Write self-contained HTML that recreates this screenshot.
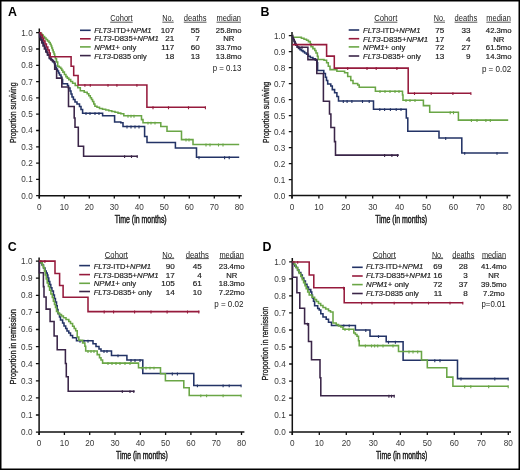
<!DOCTYPE html><html><head><meta charset="utf-8"><style>html,body{margin:0;padding:0;background:#fff}svg{display:block;will-change:transform}text{font-family:"Liberation Sans",sans-serif}</style></head><body>
<svg width="520" height="470" viewBox="0 0 520 470">
<rect x="0" y="0" width="520" height="470" fill="#fff"/>
<path d="M39.3 28.5V198.5M38.6 195.7H241.8" stroke="#111" stroke-width="1.5" fill="none"/>
<path d="M36.1 195.7H39.3M36.1 179.4H39.3M36.1 163.1H39.3M36.1 146.8H39.3M36.1 130.5H39.3M36.1 114.2H39.3M36.1 97.9H39.3M36.1 81.6H39.3M36.1 65.3H39.3M36.1 49H39.3M36.1 32.7H39.3M39.3 195.7V198.5M64.3 195.7V198.5M89.3 195.7V198.5M114.3 195.7V198.5M139.3 195.7V198.5M164.3 195.7V198.5M189.3 195.7V198.5M214.3 195.7V198.5M239.3 195.7V198.5" stroke="#111" stroke-width="1.3" fill="none"/>
<text x="32.7" y="198.6" font-size="8.2" text-anchor="end" fill="#383838">0.0</text>
<text x="32.7" y="182.3" font-size="8.2" text-anchor="end" fill="#383838">0.1</text>
<text x="32.7" y="166" font-size="8.2" text-anchor="end" fill="#383838">0.2</text>
<text x="32.7" y="149.7" font-size="8.2" text-anchor="end" fill="#383838">0.3</text>
<text x="32.7" y="133.4" font-size="8.2" text-anchor="end" fill="#383838">0.4</text>
<text x="32.7" y="117.1" font-size="8.2" text-anchor="end" fill="#383838">0.5</text>
<text x="32.7" y="100.8" font-size="8.2" text-anchor="end" fill="#383838">0.6</text>
<text x="32.7" y="84.5" font-size="8.2" text-anchor="end" fill="#383838">0.7</text>
<text x="32.7" y="68.2" font-size="8.2" text-anchor="end" fill="#383838">0.8</text>
<text x="32.7" y="51.9" font-size="8.2" text-anchor="end" fill="#383838">0.9</text>
<text x="32.7" y="35.6" font-size="8.2" text-anchor="end" fill="#383838">1.0</text>
<text x="39.3" y="209.7" font-size="8.2" text-anchor="middle" fill="#383838">0</text>
<text x="64.3" y="209.7" font-size="8.2" text-anchor="middle" fill="#383838">10</text>
<text x="89.3" y="209.7" font-size="8.2" text-anchor="middle" fill="#383838">20</text>
<text x="114.3" y="209.7" font-size="8.2" text-anchor="middle" fill="#383838">30</text>
<text x="139.3" y="209.7" font-size="8.2" text-anchor="middle" fill="#383838">40</text>
<text x="164.3" y="209.7" font-size="8.2" text-anchor="middle" fill="#383838">50</text>
<text x="189.3" y="209.7" font-size="8.2" text-anchor="middle" fill="#383838">60</text>
<text x="214.3" y="209.7" font-size="8.2" text-anchor="middle" fill="#383838">70</text>
<text x="239.3" y="209.7" font-size="8.2" text-anchor="middle" fill="#383838">80</text>
<text x="8" y="15.7" font-size="12.4" fill="#000" font-weight="bold">A</text>
<text transform="translate(16.1 112.8) rotate(-90)" x="0" y="0" font-size="9.7" fill="#1a1a1a" stroke="#1a1a1a" stroke-width="0.3" text-anchor="middle" textLength="60.5" lengthAdjust="spacingAndGlyphs">Proportion surviving</text>
<text x="114.7" y="223" font-size="10" textLength="52" lengthAdjust="spacingAndGlyphs" fill="#1a1a1a" stroke="#1a1a1a" stroke-width="0.45">Time (in months)</text>
<text x="110.2" y="21.3" font-size="8.2" textLength="22.5" lengthAdjust="spacingAndGlyphs" fill="#1a1a1a">Cohort</text>
<path d="M110.2 22.2H132.7" stroke="#1a1a1a" stroke-width="0.75"/>
<text x="162.3" y="21.3" font-size="8.2" textLength="11.4" lengthAdjust="spacingAndGlyphs" fill="#1a1a1a">No.</text>
<path d="M162.3 22.2H173.7" stroke="#1a1a1a" stroke-width="0.75"/>
<text x="183.8" y="21.3" font-size="8.2" textLength="22.7" lengthAdjust="spacingAndGlyphs" fill="#1a1a1a">deaths</text>
<path d="M183.8 22.2H206.5" stroke="#1a1a1a" stroke-width="0.75"/>
<text x="216.5" y="21.3" font-size="8.2" textLength="24.5" lengthAdjust="spacingAndGlyphs" fill="#1a1a1a">median</text>
<path d="M216.5 22.2H241" stroke="#1a1a1a" stroke-width="0.75"/>
<path d="M80 30.3H90.7" stroke="#233366" stroke-width="1.6"/>
<text x="94.2" y="32.5" font-size="7.9" textLength="57.3" lengthAdjust="spacingAndGlyphs" fill="#1a1a1a" stroke="#1a1a1a" stroke-width="0.18"><tspan font-style="italic">FLT3</tspan>-ITD+<tspan font-style="italic">NPM1</tspan></text>
<text x="174.2" y="32.5" font-size="8.1" text-anchor="end" fill="#1a1a1a" stroke="#1a1a1a" stroke-width="0.18">107</text>
<text x="199.8" y="32.5" font-size="8.1" text-anchor="end" fill="#1a1a1a" stroke="#1a1a1a" stroke-width="0.18">55</text>
<text x="228.7" y="32.5" font-size="7.7" text-anchor="middle" fill="#1a1a1a" stroke="#1a1a1a" stroke-width="0.18">25.8mo</text>
<path d="M80 38.8H90.7" stroke="#961a3c" stroke-width="1.6"/>
<text x="94.2" y="41.2" font-size="7.9" textLength="64.5" lengthAdjust="spacingAndGlyphs" fill="#1a1a1a" stroke="#1a1a1a" stroke-width="0.18"><tspan font-style="italic">FLT3</tspan>-D835+<tspan font-style="italic">NPM1</tspan></text>
<text x="174.2" y="41.2" font-size="8.1" text-anchor="end" fill="#1a1a1a" stroke="#1a1a1a" stroke-width="0.18">21</text>
<text x="199.8" y="41.2" font-size="8.1" text-anchor="end" fill="#1a1a1a" stroke="#1a1a1a" stroke-width="0.18">7</text>
<text x="228.7" y="41.2" font-size="7.7" text-anchor="middle" fill="#1a1a1a" stroke="#1a1a1a" stroke-width="0.18">NR</text>
<path d="M80 46.9H90.7" stroke="#6aa646" stroke-width="1.6"/>
<text x="94.2" y="49.8" font-size="7.9" textLength="42.2" lengthAdjust="spacingAndGlyphs" fill="#1a1a1a" stroke="#1a1a1a" stroke-width="0.18"><tspan font-style="italic">NPM1</tspan>+ only</text>
<text x="174.2" y="49.8" font-size="8.1" text-anchor="end" fill="#1a1a1a" stroke="#1a1a1a" stroke-width="0.18">117</text>
<text x="199.8" y="49.8" font-size="8.1" text-anchor="end" fill="#1a1a1a" stroke="#1a1a1a" stroke-width="0.18">60</text>
<text x="228.7" y="49.8" font-size="7.7" text-anchor="middle" fill="#1a1a1a" stroke="#1a1a1a" stroke-width="0.18">33.7mo</text>
<path d="M80 55.6H90.7" stroke="#3a2548" stroke-width="1.6"/>
<text x="94.2" y="58.5" font-size="7.9" textLength="52.4" lengthAdjust="spacingAndGlyphs" fill="#1a1a1a" stroke="#1a1a1a" stroke-width="0.18"><tspan font-style="italic">FLT3</tspan>-D835 only</text>
<text x="174.2" y="58.5" font-size="8.1" text-anchor="end" fill="#1a1a1a" stroke="#1a1a1a" stroke-width="0.18">18</text>
<text x="199.8" y="58.5" font-size="8.1" text-anchor="end" fill="#1a1a1a" stroke="#1a1a1a" stroke-width="0.18">13</text>
<text x="228.7" y="58.5" font-size="7.7" text-anchor="middle" fill="#1a1a1a" stroke="#1a1a1a" stroke-width="0.18">13.8mo</text>
<text x="212.7" y="70.6" font-size="8.2" textLength="28.6" lengthAdjust="spacingAndGlyphs" fill="#1a1a1a">p = 0.13</text>
<path d="M39.3 32.7H39.8V35H40.8V37.5H41.8V40H42.8V42.5H43.8V45H44.8V47.5H45.8V50H46.8V52.5H47.8V55H49.6V58.6H51V59.5H52.2V60.5H53.3V62H54.3V63.5H55.1V65.5H55.8V67.5H56.5V69.2H57.5V71H58.5V73H59.5V75H61V77H61.8V79.5H62.6V83.8H67.5V85.5H68.5V88H70V91H71V94H72V97H73.4V99.5H75V102H77V104H79.5V106.5H81V109.5H82.6V113.2H102.6V115.8H114.6V122H120.8V122.7H123V126.5H144.6V136.5H147V142.5H175.4V148H196.5V157.3H239.2" stroke="#233366" stroke-width="1.55" fill="none" stroke-linejoin="miter"/>
<path d="M86 112.2V115.1M90 112.2V115.1M95 112.2V115.1M99 112.2V115.1M127 125.5V128.4M131 125.5V128.4M135 125.5V128.4M139 125.5V128.4M199 156.3V159.2M224.6 156.3V159.2M229.2 156.3V159.2" stroke="#233366" stroke-width="1.1" fill="none"/>
<path d="M39.3 32.7H40.5V33.5H41.8V35H43.2V36.5H44.6V38H46V39.5H47.5V41H49V42.5H50.2V44.2H51.1V46H51.8V48H52.5V50H53.2V52H54V54H54.7V56.5H55.4V58.7H56.5V62H57.7V66.2H59.2V67.3H60.7V68.4H61.8V70.2H62.9V72.1H64.4V74.4H65.9V76.6H67.3V78.1H68.8V79.6H70.7V81.5H72.6V83.3H75.2V85.5H77.8V87.8H80.3V90.8H84.2V92.3H87.2V93.8H88.8V95.8H90.3V97.7H91.5V99.5H92.6V101.5H93.8V104H94.9V106.2H97V107.3H99.5V108.5H102.5V109.2H105.7V110H108.8V110.8H111.8V111.5H115V112.3H118V113.1H120.8V113.7H123.8V115.8H141.5V119.6H143V122.7H160.8V126.5H167V131.3H181.5V139.6H193V144.5H239.2" stroke="#6aa646" stroke-width="1.55" fill="none" stroke-linejoin="miter"/>
<path d="M128 114.8V117.7M131 114.8V117.7M134 114.8V117.7M148 121.7V124.6M151 121.7V124.6M155 121.7V124.6M186 138.6V141.5M189 138.6V141.5M206 143.5V146.4M210 143.5V146.4M218.5 143.5V146.4M223 143.5V146.4" stroke="#6aa646" stroke-width="1.1" fill="none"/>
<path d="M39.3 32.7H39.6V37H40.6V40H41.8V43H43V46H44.4V49H45.8V52H47.4V55H49.2V58H51V60H52.5V61.5H54.7V69.1H56.6V78.1H61.8V87H68.5V106.5H74.2V118H75V127.3H78.3V146.3H83.6V156.2H137.7" stroke="#3a2548" stroke-width="1.55" fill="none" stroke-linejoin="miter"/>
<path d="M124.6 155.2V158.1M131.5 155.2V158.1M137.2 155.2V158.1" stroke="#3a2548" stroke-width="1.1" fill="none"/>
<path d="M39.3 32.7H40.8V35H42.2V38H43.6V41H45V44H46.4V47H47.8V50H49.2V53H50.2V56.8H71.1V66.3H73.7V75.4H78.1V84.9H146.9V107.3H205.4" stroke="#961a3c" stroke-width="1.55" fill="none" stroke-linejoin="miter"/>
<path d="M84.9 83.9V86.8M90.3 83.9V86.8M108 83.9V86.8M116.9 83.9V86.8M136.9 83.9V86.8M153 106.3V109.2M168.5 106.3V109.2M188.5 106.3V109.2M205.4 106.3V109.2" stroke="#961a3c" stroke-width="1.1" fill="none"/>
<path d="M292 31.9V198.4M291.3 195.6H510.5" stroke="#111" stroke-width="1.5" fill="none"/>
<path d="M288.8 195.6H292M288.8 179.6H292M288.8 163.6H292M288.8 147.6H292M288.8 131.6H292M288.8 115.6H292M288.8 99.6H292M288.8 83.6H292M288.8 67.6H292M288.8 51.6H292M288.8 35.6H292M292 195.6V198.4M318.9 195.6V198.4M345.8 195.6V198.4M372.7 195.6V198.4M399.6 195.6V198.4M426.5 195.6V198.4M453.4 195.6V198.4M480.3 195.6V198.4M507.2 195.6V198.4" stroke="#111" stroke-width="1.3" fill="none"/>
<text x="285.4" y="198.5" font-size="8.2" text-anchor="end" fill="#383838">0.0</text>
<text x="285.4" y="182.5" font-size="8.2" text-anchor="end" fill="#383838">0.1</text>
<text x="285.4" y="166.5" font-size="8.2" text-anchor="end" fill="#383838">0.2</text>
<text x="285.4" y="150.5" font-size="8.2" text-anchor="end" fill="#383838">0.3</text>
<text x="285.4" y="134.5" font-size="8.2" text-anchor="end" fill="#383838">0.4</text>
<text x="285.4" y="118.5" font-size="8.2" text-anchor="end" fill="#383838">0.5</text>
<text x="285.4" y="102.5" font-size="8.2" text-anchor="end" fill="#383838">0.6</text>
<text x="285.4" y="86.5" font-size="8.2" text-anchor="end" fill="#383838">0.7</text>
<text x="285.4" y="70.5" font-size="8.2" text-anchor="end" fill="#383838">0.8</text>
<text x="285.4" y="54.5" font-size="8.2" text-anchor="end" fill="#383838">0.9</text>
<text x="285.4" y="38.5" font-size="8.2" text-anchor="end" fill="#383838">1.0</text>
<text x="292" y="209.6" font-size="8.2" text-anchor="middle" fill="#383838">0</text>
<text x="318.9" y="209.6" font-size="8.2" text-anchor="middle" fill="#383838">10</text>
<text x="345.8" y="209.6" font-size="8.2" text-anchor="middle" fill="#383838">20</text>
<text x="372.7" y="209.6" font-size="8.2" text-anchor="middle" fill="#383838">30</text>
<text x="399.6" y="209.6" font-size="8.2" text-anchor="middle" fill="#383838">40</text>
<text x="426.5" y="209.6" font-size="8.2" text-anchor="middle" fill="#383838">50</text>
<text x="453.4" y="209.6" font-size="8.2" text-anchor="middle" fill="#383838">60</text>
<text x="480.3" y="209.6" font-size="8.2" text-anchor="middle" fill="#383838">70</text>
<text x="507.2" y="209.6" font-size="8.2" text-anchor="middle" fill="#383838">80</text>
<text x="260.4" y="16" font-size="12.4" fill="#000" font-weight="bold">B</text>
<text transform="translate(268.5 112.4) rotate(-90)" x="0" y="0" font-size="9.7" fill="#1a1a1a" stroke="#1a1a1a" stroke-width="0.3" text-anchor="middle" textLength="61" lengthAdjust="spacingAndGlyphs">Proportion surviving</text>
<text x="375.2" y="223" font-size="10" textLength="52" lengthAdjust="spacingAndGlyphs" fill="#1a1a1a" stroke="#1a1a1a" stroke-width="0.45">Time (in months)</text>
<text x="374.2" y="21.3" font-size="8.2" textLength="23.1" lengthAdjust="spacingAndGlyphs" fill="#1a1a1a">Cohort</text>
<path d="M374.2 22.2H397.3" stroke="#1a1a1a" stroke-width="0.75"/>
<text x="433.8" y="21.3" font-size="8.2" textLength="11.2" lengthAdjust="spacingAndGlyphs" fill="#1a1a1a">No.</text>
<path d="M433.8 22.2H445" stroke="#1a1a1a" stroke-width="0.75"/>
<text x="454.6" y="21.3" font-size="8.2" textLength="22.7" lengthAdjust="spacingAndGlyphs" fill="#1a1a1a">deaths</text>
<path d="M454.6 22.2H477.3" stroke="#1a1a1a" stroke-width="0.75"/>
<text x="486.3" y="21.3" font-size="8.2" textLength="24.5" lengthAdjust="spacingAndGlyphs" fill="#1a1a1a">median</text>
<path d="M486.3 22.2H510.8" stroke="#1a1a1a" stroke-width="0.75"/>
<path d="M348.7 30H359.2" stroke="#233366" stroke-width="1.6"/>
<text x="363.1" y="32.5" font-size="7.9" textLength="57.3" lengthAdjust="spacingAndGlyphs" fill="#1a1a1a" stroke="#1a1a1a" stroke-width="0.18"><tspan font-style="italic">FLT3</tspan>-ITD+<tspan font-style="italic">NPM1</tspan></text>
<text x="444.2" y="32.5" font-size="8.1" text-anchor="end" fill="#1a1a1a" stroke="#1a1a1a" stroke-width="0.18">75</text>
<text x="470.5" y="32.5" font-size="8.1" text-anchor="end" fill="#1a1a1a" stroke="#1a1a1a" stroke-width="0.18">33</text>
<text x="498.7" y="32.5" font-size="7.7" text-anchor="middle" fill="#1a1a1a" stroke="#1a1a1a" stroke-width="0.18">42.3mo</text>
<path d="M348.7 38.7H359.2" stroke="#961a3c" stroke-width="1.6"/>
<text x="363.1" y="41.6" font-size="7.9" textLength="65" lengthAdjust="spacingAndGlyphs" fill="#1a1a1a" stroke="#1a1a1a" stroke-width="0.18"><tspan font-style="italic">FLT3</tspan>-D835+<tspan font-style="italic">NPM1</tspan></text>
<text x="444.2" y="41.6" font-size="8.1" text-anchor="end" fill="#1a1a1a" stroke="#1a1a1a" stroke-width="0.18">17</text>
<text x="470.5" y="41.6" font-size="8.1" text-anchor="end" fill="#1a1a1a" stroke="#1a1a1a" stroke-width="0.18">4</text>
<text x="498.7" y="41.6" font-size="7.7" text-anchor="middle" fill="#1a1a1a" stroke="#1a1a1a" stroke-width="0.18">NR</text>
<path d="M348.7 46.9H359.2" stroke="#6aa646" stroke-width="1.6"/>
<text x="363.1" y="50.2" font-size="7.9" textLength="42.2" lengthAdjust="spacingAndGlyphs" fill="#1a1a1a" stroke="#1a1a1a" stroke-width="0.18"><tspan font-style="italic">NPM1</tspan>+ only</text>
<text x="444.2" y="50.2" font-size="8.1" text-anchor="end" fill="#1a1a1a" stroke="#1a1a1a" stroke-width="0.18">72</text>
<text x="470.5" y="50.2" font-size="8.1" text-anchor="end" fill="#1a1a1a" stroke="#1a1a1a" stroke-width="0.18">27</text>
<text x="498.7" y="50.2" font-size="7.7" text-anchor="middle" fill="#1a1a1a" stroke="#1a1a1a" stroke-width="0.18">61.5mo</text>
<path d="M348.7 56H359.2" stroke="#3a2548" stroke-width="1.6"/>
<text x="363.1" y="58.9" font-size="7.9" textLength="57.8" lengthAdjust="spacingAndGlyphs" fill="#1a1a1a" stroke="#1a1a1a" stroke-width="0.18"><tspan font-style="italic">FLT3</tspan>-D835+ only</text>
<text x="444.2" y="58.9" font-size="8.1" text-anchor="end" fill="#1a1a1a" stroke="#1a1a1a" stroke-width="0.18">13</text>
<text x="470.5" y="58.9" font-size="8.1" text-anchor="end" fill="#1a1a1a" stroke="#1a1a1a" stroke-width="0.18">9</text>
<text x="498.7" y="58.9" font-size="7.7" text-anchor="middle" fill="#1a1a1a" stroke="#1a1a1a" stroke-width="0.18">14.3mo</text>
<text x="481.9" y="72.3" font-size="8.2" textLength="29.4" lengthAdjust="spacingAndGlyphs" fill="#1a1a1a">p = 0.02</text>
<path d="M292 35.6H292.5V37.5H293.3V39.5H294.2V41.5H295V43.5H295.8V45.3H297V47H298.5V48.5H300V49.6H301.5V50.6H303V51.6H304.6V53H306.5V54.3H308.4V56.2H310.3V57.5H312.9V58.8H315.4V60.1H317.2V62.8H317.6V70.4H323.8V73.5H325.4V77.3H326.5V80.5H327.7V84H330.8V86H332.3V89.6H334.6V92.7H336.9V96.5H338.5V101H373.5V109.2H406.3V118H407.8V131.3H439V138H461.8V152.9H508.2" stroke="#233366" stroke-width="1.55" fill="none" stroke-linejoin="miter"/>
<path d="M343.3 100V102.9M347.1 100V102.9M351.9 100V102.9M362.5 100V102.9M369.2 100V102.9M379.8 108.2V111.1M384.6 108.2V111.1M390.4 108.2V111.1M396.2 108.2V111.1M401 108.2V111.1M445.7 137V139.9M464.7 151.9V154.8M497 151.9V154.8" stroke="#233366" stroke-width="1.1" fill="none"/>
<path d="M292 35.6H292.6V37.3H301.4V38.2H304V39.2H306.5V40.2H308.4V41.6H310.3V43.8H311V46.7H312.9V48.6H314.8V50.5H316V53H317.4V56.2H318.1V59.4H324V60.2H326.6V62.8H328.3V66.2H330V69.6H336.9V71.2H344.6V72.7H347.7V76.5H350.8V80.4H353V83.5H357.7V85H359.2V87.3H375.4V91.2H402.5V95H403V100.2H423.4V105.6H429.7V112.3H458.4V120.1H508.2" stroke="#6aa646" stroke-width="1.55" fill="none" stroke-linejoin="miter"/>
<path d="M380 90.2V93.1M385 90.2V93.1M390 90.2V93.1M395 90.2V93.1M399 90.2V93.1M406 99.2V102.1M410 99.2V102.1M415 99.2V102.1M450.2 111.3V114.2M453.5 111.3V114.2M471.4 119.1V122M477 119.1V122M485.9 119.1V122M490.3 119.1V122" stroke="#6aa646" stroke-width="1.1" fill="none"/>
<path d="M292 35.6H292.5V37.5H293.3V39.5H294.2V41.5H295V43.5H295.8V45.3H297.5V47.2H307.9V59.6H316.8V73.5H323.4V101.2H329.5V114H330.9V127.5H334.5V141.6H335.5V155.1H398.8" stroke="#3a2548" stroke-width="1.55" fill="none" stroke-linejoin="miter"/>
<path d="M299 46.2V49.1M302 46.2V49.1M384.6 154.1V157M391.9 154.1V157M397.5 154.1V157" stroke="#3a2548" stroke-width="1.1" fill="none"/>
<path d="M292.3 44.6H326.6V56.1H334.3V68.1H408.2V93.2H470.9" stroke="#961a3c" stroke-width="1.55" fill="none" stroke-linejoin="miter"/>
<path d="M347.7 67.1V70M367 67.1V70M376.2 67.1V70M396.9 67.1V70M414.5 92.2V95.1M431.2 92.2V95.1M452.9 92.2V95.1M470.9 92.2V95.1" stroke="#961a3c" stroke-width="1.1" fill="none"/>
<path d="M39.1 257.5V434.9M38.4 432.1H244.4" stroke="#111" stroke-width="1.5" fill="none"/>
<path d="M35.9 432.1H39.1M35.9 415H39.1M35.9 397.9H39.1M35.9 380.8H39.1M35.9 363.7H39.1M35.9 346.6H39.1M35.9 329.5H39.1M35.9 312.4H39.1M35.9 295.3H39.1M35.9 278.2H39.1M35.9 261.1H39.1M39.1 432.1V434.9M64.4 432.1V434.9M89.7 432.1V434.9M115 432.1V434.9M140.3 432.1V434.9M165.6 432.1V434.9M190.9 432.1V434.9M216.2 432.1V434.9M241.5 432.1V434.9" stroke="#111" stroke-width="1.3" fill="none"/>
<text x="32.5" y="435" font-size="8.2" text-anchor="end" fill="#383838">0.0</text>
<text x="32.5" y="417.9" font-size="8.2" text-anchor="end" fill="#383838">0.1</text>
<text x="32.5" y="400.8" font-size="8.2" text-anchor="end" fill="#383838">0.2</text>
<text x="32.5" y="383.7" font-size="8.2" text-anchor="end" fill="#383838">0.3</text>
<text x="32.5" y="366.6" font-size="8.2" text-anchor="end" fill="#383838">0.4</text>
<text x="32.5" y="349.5" font-size="8.2" text-anchor="end" fill="#383838">0.5</text>
<text x="32.5" y="332.4" font-size="8.2" text-anchor="end" fill="#383838">0.6</text>
<text x="32.5" y="315.3" font-size="8.2" text-anchor="end" fill="#383838">0.7</text>
<text x="32.5" y="298.2" font-size="8.2" text-anchor="end" fill="#383838">0.8</text>
<text x="32.5" y="281.1" font-size="8.2" text-anchor="end" fill="#383838">0.9</text>
<text x="32.5" y="264" font-size="8.2" text-anchor="end" fill="#383838">1.0</text>
<text x="39.1" y="446.1" font-size="8.2" text-anchor="middle" fill="#383838">0</text>
<text x="64.4" y="446.1" font-size="8.2" text-anchor="middle" fill="#383838">10</text>
<text x="89.7" y="446.1" font-size="8.2" text-anchor="middle" fill="#383838">20</text>
<text x="115" y="446.1" font-size="8.2" text-anchor="middle" fill="#383838">30</text>
<text x="140.3" y="446.1" font-size="8.2" text-anchor="middle" fill="#383838">40</text>
<text x="165.6" y="446.1" font-size="8.2" text-anchor="middle" fill="#383838">50</text>
<text x="190.9" y="446.1" font-size="8.2" text-anchor="middle" fill="#383838">60</text>
<text x="216.2" y="446.1" font-size="8.2" text-anchor="middle" fill="#383838">70</text>
<text x="241.5" y="446.1" font-size="8.2" text-anchor="middle" fill="#383838">80</text>
<text x="7.8" y="250.7" font-size="12.4" fill="#000" font-weight="bold">C</text>
<text transform="translate(16.4 346.8) rotate(-90)" x="0" y="0" font-size="9.7" fill="#1a1a1a" stroke="#1a1a1a" stroke-width="0.3" text-anchor="middle" textLength="75.4" lengthAdjust="spacingAndGlyphs">Proportion in remission</text>
<text x="115.9" y="459.4" font-size="10" textLength="52" lengthAdjust="spacingAndGlyphs" fill="#1a1a1a" stroke="#1a1a1a" stroke-width="0.45">Time (in months)</text>
<text x="104.8" y="257.7" font-size="8.2" textLength="23.1" lengthAdjust="spacingAndGlyphs" fill="#1a1a1a">Cohort</text>
<path d="M104.8 258.6H127.9" stroke="#1a1a1a" stroke-width="0.75"/>
<text x="162.3" y="257.7" font-size="8.2" textLength="11.9" lengthAdjust="spacingAndGlyphs" fill="#1a1a1a">No.</text>
<path d="M162.3 258.6H174.2" stroke="#1a1a1a" stroke-width="0.75"/>
<text x="185.8" y="257.7" font-size="8.2" textLength="23" lengthAdjust="spacingAndGlyphs" fill="#1a1a1a">deaths</text>
<path d="M185.8 258.6H208.8" stroke="#1a1a1a" stroke-width="0.75"/>
<text x="219.4" y="257.7" font-size="8.2" textLength="24.4" lengthAdjust="spacingAndGlyphs" fill="#1a1a1a">median</text>
<path d="M219.4 258.6H243.8" stroke="#1a1a1a" stroke-width="0.75"/>
<path d="M79.2 265.6H90" stroke="#233366" stroke-width="1.6"/>
<text x="93.7" y="268.5" font-size="7.9" textLength="57.3" lengthAdjust="spacingAndGlyphs" fill="#1a1a1a" stroke="#1a1a1a" stroke-width="0.18"><tspan font-style="italic">FLT3</tspan>-ITD+<tspan font-style="italic">NPM1</tspan></text>
<text x="174.8" y="268.5" font-size="8.1" text-anchor="end" fill="#1a1a1a" stroke="#1a1a1a" stroke-width="0.18">90</text>
<text x="201.7" y="268.5" font-size="8.1" text-anchor="end" fill="#1a1a1a" stroke="#1a1a1a" stroke-width="0.18">45</text>
<text x="231.7" y="268.5" font-size="7.7" text-anchor="middle" fill="#1a1a1a" stroke="#1a1a1a" stroke-width="0.18">23.4mo</text>
<path d="M79.2 274.6H90" stroke="#961a3c" stroke-width="1.6"/>
<text x="93.7" y="277.5" font-size="7.9" textLength="65" lengthAdjust="spacingAndGlyphs" fill="#1a1a1a" stroke="#1a1a1a" stroke-width="0.18"><tspan font-style="italic">FLT3</tspan>-D835+<tspan font-style="italic">NPM1</tspan></text>
<text x="174.8" y="277.5" font-size="8.1" text-anchor="end" fill="#1a1a1a" stroke="#1a1a1a" stroke-width="0.18">17</text>
<text x="201.7" y="277.5" font-size="8.1" text-anchor="end" fill="#1a1a1a" stroke="#1a1a1a" stroke-width="0.18">4</text>
<text x="231.7" y="277.5" font-size="7.7" text-anchor="middle" fill="#1a1a1a" stroke="#1a1a1a" stroke-width="0.18">NR</text>
<path d="M79.2 283.3H90" stroke="#6aa646" stroke-width="1.6"/>
<text x="93.7" y="286.2" font-size="7.9" textLength="42.5" lengthAdjust="spacingAndGlyphs" fill="#1a1a1a" stroke="#1a1a1a" stroke-width="0.18"><tspan font-style="italic">NPM1</tspan>+ only</text>
<text x="174.8" y="286.2" font-size="8.1" text-anchor="end" fill="#1a1a1a" stroke="#1a1a1a" stroke-width="0.18">105</text>
<text x="201.7" y="286.2" font-size="8.1" text-anchor="end" fill="#1a1a1a" stroke="#1a1a1a" stroke-width="0.18">61</text>
<text x="231.7" y="286.2" font-size="7.7" text-anchor="middle" fill="#1a1a1a" stroke="#1a1a1a" stroke-width="0.18">18.3mo</text>
<path d="M79.2 291.5H90" stroke="#3a2548" stroke-width="1.6"/>
<text x="93.7" y="294.8" font-size="7.9" textLength="58.2" lengthAdjust="spacingAndGlyphs" fill="#1a1a1a" stroke="#1a1a1a" stroke-width="0.18"><tspan font-style="italic">FLT3</tspan>-D835+ only</text>
<text x="174.8" y="294.8" font-size="8.1" text-anchor="end" fill="#1a1a1a" stroke="#1a1a1a" stroke-width="0.18">14</text>
<text x="201.7" y="294.8" font-size="8.1" text-anchor="end" fill="#1a1a1a" stroke="#1a1a1a" stroke-width="0.18">10</text>
<text x="231.7" y="294.8" font-size="7.7" text-anchor="middle" fill="#1a1a1a" stroke="#1a1a1a" stroke-width="0.18">7.22mo</text>
<text x="214.2" y="307.1" font-size="8.2" textLength="29.3" lengthAdjust="spacingAndGlyphs" fill="#1a1a1a">p = 0.02</text>
<path d="M39.1 261.1H40.5V262.7H42V265H43.5V268H45V271H46.2V273H47.2V275H47.9V278H48.8V281.5H49.8V284.5H50.8V287.8H51.9V291H53.4V295H54.4V298.5H55.4V302H56.5V305.8H57.2V309.5H58V313.8H59.5V317H60.5V320H62.6V323H64V326H65.7V328.5H67V331H68.8V333H70.5V335.5H72.6V337.7H76.5V340.8H93V343.8H96V346.5H99V349H101V351H111.5V355.4H126.9V360H142.8V373.5H193.8V385.4H241.1" stroke="#233366" stroke-width="1.55" fill="none" stroke-linejoin="miter"/>
<path d="M80 339.8V342.7M84 339.8V342.7M88 339.8V342.7M104 350V352.9M107 350V352.9M118 354.4V357.3M131 359V361.9M135 359V361.9M140 359V361.9M172.3 372.5V375.4M177.4 372.5V375.4M197.4 384.4V387.3M223.1 384.4V387.3M229.2 384.4V387.3M241.1 384.4V387.3" stroke="#233366" stroke-width="1.1" fill="none"/>
<path d="M39.1 261.1H41V263H42.5V265.5H43.4V267.5H44.4V271H45.3V275H46.2V279H47.2V283H48.4V286.5H49.6V290.2H50.9V294H52.3V297.5H53.4V301.2H54.5V304.5H55.5V307.5H56.5V311.5H58V313H59.5V314.6H61.5V316H63.4V317.7H66V319.5H68.8V321.5H70.5V323.5H72.6V326.2H74.2V328.5H75.7V330.8H77.2V337H78.8V340.3H82.6V343H84.9V346.2H85.7V351H97.2V354.6H99.5V357.7H101V360H102.6V363.1H138.5V367.7H160.5V373.8H165.4V380.7H183.8V387.7H189.2V395.4H241.1" stroke="#6aa646" stroke-width="1.55" fill="none" stroke-linejoin="miter"/>
<path d="M88 350V352.9M91 350V352.9M94 350V352.9M108 362.1V365M112 362.1V365M116 362.1V365M120 362.1V365M125 362.1V365M130 362.1V365M142 366.7V369.6M146 366.7V369.6M150 366.7V369.6M154 366.7V369.6M200.8 394.4V397.3M206.6 394.4V397.3M223.1 394.4V397.3M241.1 394.4V397.3" stroke="#6aa646" stroke-width="1.1" fill="none"/>
<path d="M39.1 261.1H39.4V272.8H43.4V286.6H44V297H46.1V309.1H50.1V321.5H54.1V336H57.2V349.7H65.4V363.5H66.3V376.8H68.2V391.2H134.6" stroke="#3a2548" stroke-width="1.55" fill="none" stroke-linejoin="miter"/>
<path d="M122.3 390.2V393.1M130 390.2V393.1M133.8 390.2V393.1" stroke="#3a2548" stroke-width="1.1" fill="none"/>
<path d="M39.1 261.1H55V273.4H59.6V285.5H63.1V297.3H88V311.6H199.4" stroke="#961a3c" stroke-width="1.55" fill="none" stroke-linejoin="miter"/>
<path d="M44.9 260.1V263M104.2 310.6V313.5M113.6 310.6V313.5M134.6 310.6V313.5M151 310.6V313.5M167.1 310.6V313.5M187.5 310.6V313.5M198.8 310.6V313.5" stroke="#961a3c" stroke-width="1.1" fill="none"/>
<path d="M292.3 258.1V434.9M291.6 432.1H511" stroke="#111" stroke-width="1.5" fill="none"/>
<path d="M289.1 432.1H292.3M289.1 415.08H292.3M289.1 398.06H292.3M289.1 381.04H292.3M289.1 364.02H292.3M289.1 347H292.3M289.1 329.98H292.3M289.1 312.96H292.3M289.1 295.94H292.3M289.1 278.92H292.3M289.1 261.9H292.3M292.3 432.1V434.9M319.3 432.1V434.9M346.3 432.1V434.9M373.3 432.1V434.9M400.3 432.1V434.9M427.3 432.1V434.9M454.3 432.1V434.9M481.3 432.1V434.9M508.3 432.1V434.9" stroke="#111" stroke-width="1.3" fill="none"/>
<text x="285.7" y="435" font-size="8.2" text-anchor="end" fill="#383838">0.0</text>
<text x="285.7" y="417.98" font-size="8.2" text-anchor="end" fill="#383838">0.1</text>
<text x="285.7" y="400.96" font-size="8.2" text-anchor="end" fill="#383838">0.2</text>
<text x="285.7" y="383.94" font-size="8.2" text-anchor="end" fill="#383838">0.3</text>
<text x="285.7" y="366.92" font-size="8.2" text-anchor="end" fill="#383838">0.4</text>
<text x="285.7" y="349.9" font-size="8.2" text-anchor="end" fill="#383838">0.5</text>
<text x="285.7" y="332.88" font-size="8.2" text-anchor="end" fill="#383838">0.6</text>
<text x="285.7" y="315.86" font-size="8.2" text-anchor="end" fill="#383838">0.7</text>
<text x="285.7" y="298.84" font-size="8.2" text-anchor="end" fill="#383838">0.8</text>
<text x="285.7" y="281.82" font-size="8.2" text-anchor="end" fill="#383838">0.9</text>
<text x="285.7" y="264.8" font-size="8.2" text-anchor="end" fill="#383838">1.0</text>
<text x="292.3" y="446.1" font-size="8.2" text-anchor="middle" fill="#383838">0</text>
<text x="319.3" y="446.1" font-size="8.2" text-anchor="middle" fill="#383838">10</text>
<text x="346.3" y="446.1" font-size="8.2" text-anchor="middle" fill="#383838">20</text>
<text x="373.3" y="446.1" font-size="8.2" text-anchor="middle" fill="#383838">30</text>
<text x="400.3" y="446.1" font-size="8.2" text-anchor="middle" fill="#383838">40</text>
<text x="427.3" y="446.1" font-size="8.2" text-anchor="middle" fill="#383838">50</text>
<text x="454.3" y="446.1" font-size="8.2" text-anchor="middle" fill="#383838">60</text>
<text x="481.3" y="446.1" font-size="8.2" text-anchor="middle" fill="#383838">70</text>
<text x="508.3" y="446.1" font-size="8.2" text-anchor="middle" fill="#383838">80</text>
<text x="262.4" y="250.7" font-size="12.4" fill="#000" font-weight="bold">D</text>
<text transform="translate(268.2 343.6) rotate(-90)" x="0" y="0" font-size="9.7" fill="#1a1a1a" stroke="#1a1a1a" stroke-width="0.3" text-anchor="middle" textLength="74" lengthAdjust="spacingAndGlyphs">Proportion in remission</text>
<text x="375.9" y="459.4" font-size="10" textLength="51.5" lengthAdjust="spacingAndGlyphs" fill="#1a1a1a" stroke="#1a1a1a" stroke-width="0.45">Time (in months)</text>
<text x="372.7" y="257.7" font-size="8.2" textLength="23.1" lengthAdjust="spacingAndGlyphs" fill="#1a1a1a">Cohort</text>
<path d="M372.7 258.6H395.8" stroke="#1a1a1a" stroke-width="0.75"/>
<text x="431.9" y="257.7" font-size="8.2" textLength="11.2" lengthAdjust="spacingAndGlyphs" fill="#1a1a1a">No.</text>
<path d="M431.9 258.6H443.1" stroke="#1a1a1a" stroke-width="0.75"/>
<text x="452.3" y="257.7" font-size="8.2" textLength="22.1" lengthAdjust="spacingAndGlyphs" fill="#1a1a1a">deaths</text>
<path d="M452.3 258.6H474.4" stroke="#1a1a1a" stroke-width="0.75"/>
<text x="481.9" y="257.7" font-size="8.2" textLength="24.1" lengthAdjust="spacingAndGlyphs" fill="#1a1a1a">median</text>
<path d="M481.9 258.6H506" stroke="#1a1a1a" stroke-width="0.75"/>
<path d="M352.1 267.3H362.7" stroke="#233366" stroke-width="1.6"/>
<text x="366" y="269.4" font-size="7.9" textLength="57.3" lengthAdjust="spacingAndGlyphs" fill="#1a1a1a" stroke="#1a1a1a" stroke-width="0.18"><tspan font-style="italic">FLT3</tspan>-ITD+<tspan font-style="italic">NPM1</tspan></text>
<text x="442.2" y="269.4" font-size="8.1" text-anchor="end" fill="#1a1a1a" stroke="#1a1a1a" stroke-width="0.18">69</text>
<text x="467.8" y="269.4" font-size="8.1" text-anchor="end" fill="#1a1a1a" stroke="#1a1a1a" stroke-width="0.18">28</text>
<text x="493.8" y="269.4" font-size="7.7" text-anchor="middle" fill="#1a1a1a" stroke="#1a1a1a" stroke-width="0.18">41.4mo</text>
<path d="M352.1 276H362.7" stroke="#961a3c" stroke-width="1.6"/>
<text x="366" y="278.1" font-size="7.9" textLength="65" lengthAdjust="spacingAndGlyphs" fill="#1a1a1a" stroke="#1a1a1a" stroke-width="0.18"><tspan font-style="italic">FLT3</tspan>-D835+<tspan font-style="italic">NPM1</tspan></text>
<text x="442.2" y="278.1" font-size="8.1" text-anchor="end" fill="#1a1a1a" stroke="#1a1a1a" stroke-width="0.18">16</text>
<text x="467.8" y="278.1" font-size="8.1" text-anchor="end" fill="#1a1a1a" stroke="#1a1a1a" stroke-width="0.18">3</text>
<text x="493.8" y="278.1" font-size="7.7" text-anchor="middle" fill="#1a1a1a" stroke="#1a1a1a" stroke-width="0.18">NR</text>
<path d="M352.1 284.6H362.7" stroke="#6aa646" stroke-width="1.6"/>
<text x="366" y="287.1" font-size="7.9" textLength="42.8" lengthAdjust="spacingAndGlyphs" fill="#1a1a1a" stroke="#1a1a1a" stroke-width="0.18"><tspan font-style="italic">NPM1</tspan>+ only</text>
<text x="442.2" y="287.1" font-size="8.1" text-anchor="end" fill="#1a1a1a" stroke="#1a1a1a" stroke-width="0.18">72</text>
<text x="467.8" y="287.1" font-size="8.1" text-anchor="end" fill="#1a1a1a" stroke="#1a1a1a" stroke-width="0.18">37</text>
<text x="493.8" y="287.1" font-size="7.7" text-anchor="middle" fill="#1a1a1a" stroke="#1a1a1a" stroke-width="0.18">39.5mo</text>
<path d="M352.1 293.5H362.7" stroke="#3a2548" stroke-width="1.6"/>
<text x="366" y="295.8" font-size="7.9" textLength="52.8" lengthAdjust="spacingAndGlyphs" fill="#1a1a1a" stroke="#1a1a1a" stroke-width="0.18"><tspan font-style="italic">FLT3</tspan>-D835 only</text>
<text x="442.2" y="295.8" font-size="8.1" text-anchor="end" fill="#1a1a1a" stroke="#1a1a1a" stroke-width="0.18">11</text>
<text x="467.8" y="295.8" font-size="8.1" text-anchor="end" fill="#1a1a1a" stroke="#1a1a1a" stroke-width="0.18">8</text>
<text x="493.8" y="295.8" font-size="7.7" text-anchor="middle" fill="#1a1a1a" stroke="#1a1a1a" stroke-width="0.18">7.2mo</text>
<text x="481.5" y="307.3" font-size="8.2" textLength="24.1" lengthAdjust="spacingAndGlyphs" fill="#1a1a1a">p=0.01</text>
<path d="M292.3 261.9H293.5V264H294.8V266H296.2V267.5H297.5V270H299V272.5H300.8V275H302.3V278H303.8V281H305.4V284.2H307V287H308.5V289.6H310.8V292H311.8V295H312.5V298H313.5V301.2H314.6V305.8H317.7V308.5H319.2V310H320.8V313.8H323V316.9H326.2V319.2H328.5V322.3H331.5V325.4H355.4V330H370V336.2H386.2V341.8H403.1V360.3H457.5V378.6H508.2" stroke="#233366" stroke-width="1.55" fill="none" stroke-linejoin="miter"/>
<path d="M343.8 324.4V327.3M349.2 324.4V327.3M365.8 329V331.9M378.5 335.2V338.1M388.5 340.8V343.7M395.4 340.8V343.7M434.8 359.3V362.2M440 359.3V362.2M461 377.6V380.5M494.8 377.6V380.5M508.2 377.6V380.5" stroke="#233366" stroke-width="1.1" fill="none"/>
<path d="M292.3 261.9H294V264.5H295.8V267.5H297.7V270.4H299.2V273.5H300.8V276.5H302.3V279.6H303.6V282.6H305V285.7H306.2V288.8H307.7V292H309.2V295H312V297.3H314.6V299.6H316.5V301.5H318.5V303.5H320.7V305.5H323V307.5H325.7V309H328.5V310.8H330.5V312H333V323H336.2V324.6H338.5V326H340.8V327H343V329.2H353.8V333H355.4V334.5H357V336.2H358.5V340.8H359.2V345.6H398.5V351.5H421.5V360H427.3V367.8H446.8V377.1H452.9V386.3H508.2" stroke="#6aa646" stroke-width="1.55" fill="none" stroke-linejoin="miter"/>
<path d="M345 328.2V331.1M349 328.2V331.1M365.4 344.6V347.5M371.5 344.6V347.5M374.6 344.6V347.5M377.7 344.6V347.5M383 344.6V347.5M393 344.6V347.5M409 350.5V353.4M413 350.5V353.4M417.7 350.5V353.4M464.7 385.3V388.2M470.8 385.3V388.2M488.7 385.3V388.2M508.2 385.3V388.2" stroke="#6aa646" stroke-width="1.1" fill="none"/>
<path d="M292.3 261.9H292.6V277.3H296.9V292.7H299.8V308.3H304.6V323.8H308.5V341.5H311.5V359.7H320V377.7H320.8V395.8H394.6" stroke="#3a2548" stroke-width="1.55" fill="none" stroke-linejoin="miter"/>
<path d="M307.4 322.8V325.7M388.9 394.8V397.7M391.5 394.8V397.7M394.2 394.8V397.7" stroke="#3a2548" stroke-width="1.1" fill="none"/>
<path d="M292.3 261.9H309.2V275H313.8V287.8H344.2V302.7H463.1" stroke="#961a3c" stroke-width="1.55" fill="none" stroke-linejoin="miter"/>
<path d="M297.7 260.9V263.8M343.6 286.8V289.7M361.5 301.7V304.6M372 301.7V304.6M394.2 301.7V304.6M412 301.7V304.6M428.5 301.7V304.6M450 301.7V304.6M462.8 301.7V304.6" stroke="#961a3c" stroke-width="1.1" fill="none"/>
<rect x="0.75" y="0.75" width="518.5" height="468.5" fill="none" stroke="#000" stroke-width="1.5"/>
</svg></body></html>
